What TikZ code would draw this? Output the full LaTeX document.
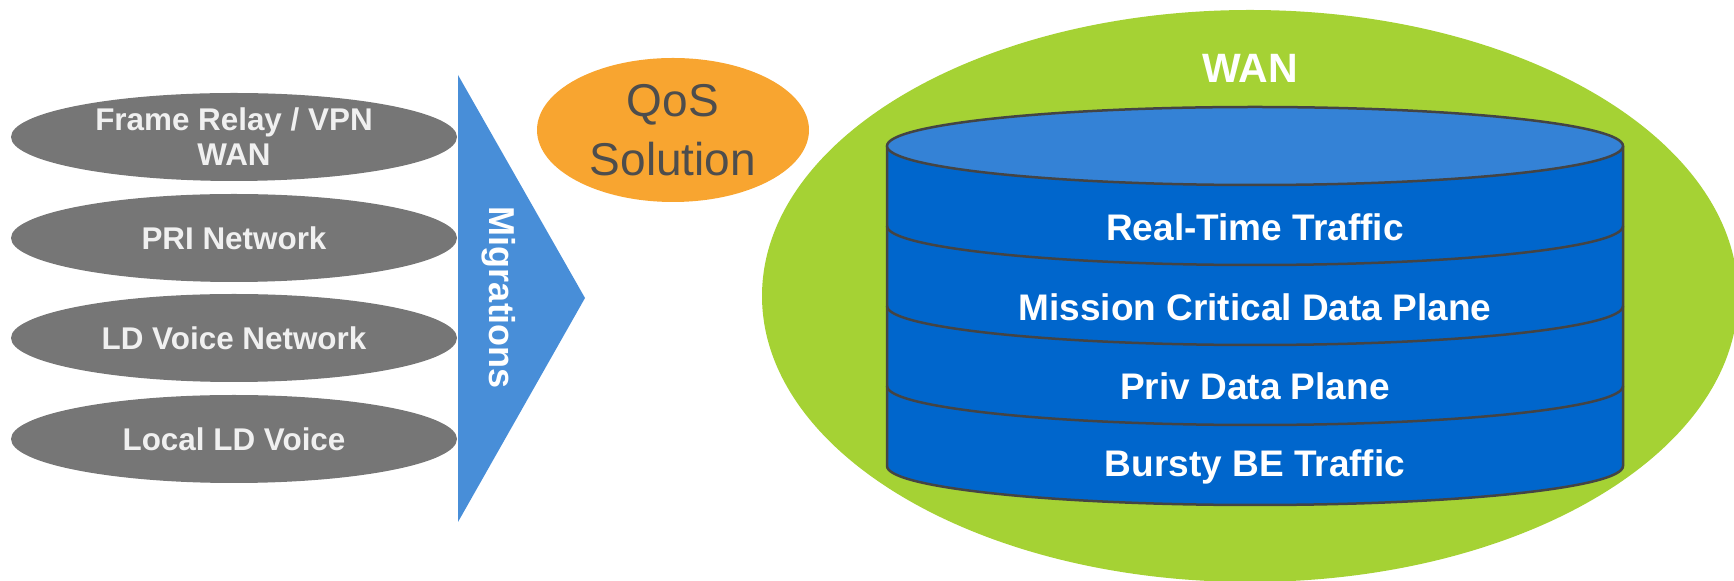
\documentclass[tikz,border=0pt]{standalone}
\usepackage{fontspec}
\setmainfont{Liberation Sans}
\usetikzlibrary{shapes.geometric}
\definecolor{ellgray}{RGB}{118,118,118}
\definecolor{chevblue}{RGB}{72,142,216}
\definecolor{qosorange}{RGB}{248,165,48}
\definecolor{qostext}{RGB}{77,77,77}
\definecolor{wangreen}{RGB}{165,210,52}
\definecolor{cyltop}{RGB}{52,130,214}
\definecolor{cylbody}{RGB}{0,102,204}
\definecolor{cylline}{RGB}{68,68,68}
\tikzset{
  srcell/.style={ellipse, fill=ellgray, minimum width=223pt, minimum height=44pt, inner sep=0pt,
    text=white!94!black, align=center, font=\fontsize{15.7pt}{17.5pt}\selectfont\bfseries},
  qosell/.style={ellipse, fill=qosorange, minimum width=136pt, minimum height=72pt, inner sep=0pt,
    text=qostext, align=center, font=\fontsize{23pt}{29.5pt}\selectfont},
  layertext/.style={text=white, font=\fontsize{18.5pt}{20pt}\selectfont\bfseries},
  cylout/.style={draw=cylline, line width=1.25pt},
}
\begin{document}
\begin{tikzpicture}[x=0.5pt,y=-0.5pt]
\useasboundingbox (0,0) rectangle (1734,581);
% source ellipses
\node[srcell] (frvpn) at (234,137) {Frame Relay / VPN\\WAN};
\node[srcell] (pri) at (234,238) {PRI Network};
\node[srcell] (ldvoice) at (234,338) {LD Voice Network};
\node[srcell] (local) at (234,439) {Local LD Voice};
% migrations chevron
\coordinate (chtop) at (458,75);
\coordinate (chtip) at (585,298);
\coordinate (chbot) at (458,522);
\fill[chevblue] (chtop) -- (chtip) -- (chbot) -- cycle;
\node[rotate=-90, text=white, font=\fontsize{18pt}{20pt}\selectfont\bfseries] (mig) at (499,298) {Migrations};
% QoS
\node[qosell] (qos) at (673,130) {QoS\\Solution};
% WAN ellipse
\fill[wangreen] (1250,296) ellipse [x radius=244pt, y radius=143pt];
\node[text=white, font=\fontsize{20.5pt}{22pt}\selectfont\bfseries] (wan) at (1250,68) {WAN};
% cylinder
\coordinate (cl) at (887,146);
\coordinate (cr) at (1623,146);
\coordinate (bl) at (887,466);
\coordinate (br) at (1623,466);
\fill[cylbody] (cl) -- (bl) arc[start angle=180, end angle=360, x radius=184pt, y radius=19.5pt] -- (cr) -- cycle;
\draw[cylout] (cl) -- (bl) arc[start angle=180, end angle=360, x radius=184pt, y radius=19.5pt] -- (cr);
\filldraw[cylout, fill=cyltop] (1255,146) ellipse [x radius=184pt, y radius=19.5pt];
\coordinate (d1) at (887,226);
\coordinate (d2) at (887,306);
\coordinate (d3) at (887,386);
\draw[cylout] (d1) arc[start angle=180, end angle=360, x radius=184pt, y radius=19.5pt];
\draw[cylout] (d2) arc[start angle=180, end angle=360, x radius=184pt, y radius=19.5pt];
\draw[cylout] (d3) arc[start angle=180, end angle=360, x radius=184pt, y radius=19.5pt];
\node[layertext] (rt) at (1255,227) {Real-Time Traffic};
\node[layertext] (mc) at (1255,307) {Mission Critical Data Plane};
\node[layertext] (pd) at (1255,386) {Priv Data Plane};
\node[layertext] (be) at (1255,467) {Bursty BE Traffic};
\end{tikzpicture}
\end{document}
